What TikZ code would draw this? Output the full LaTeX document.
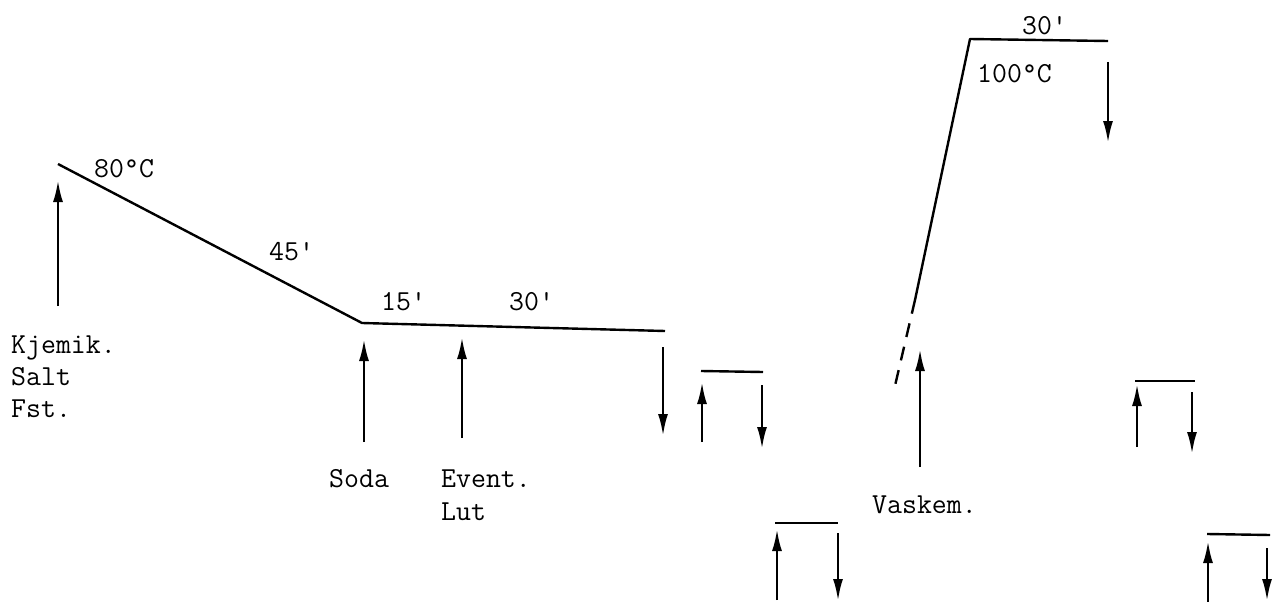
\documentclass[tikz,border=0pt]{standalone}
\usetikzlibrary{arrows.meta}
\begin{document}
\begin{tikzpicture}[x=1pt,y=-1pt,
  curve/.style={line width=2.4pt,line join=round},
  arr/.style={line width=2.6pt,-{Latex[length=22pt,width=10pt]}},
  lbl/.style={anchor=base west,inner sep=0pt,font=\fontsize{29}{33}\selectfont\ttfamily}]
\useasboundingbox (0,0) rectangle (1288,602);
% left curve
\coordinate (a1) at (58,164);
\coordinate (a2) at (362,323);
\coordinate (a3) at (665,331);
\draw[curve] (a1) -- (a2) -- (a3);
% right curve
\coordinate (b0) at (894,390);
\coordinate (b1) at (915,300);
\coordinate (b2) at (970,39);
\coordinate (b3) at (1108,41);
\draw[curve] (b1) -- (b2) -- (b3);
\draw[line width=2.4pt,dash pattern=on 14pt off 10pt] (b1) -- (b0);
% small bars
\coordinate (c1) at (701,371); \coordinate (c2) at (763,372);
\coordinate (d1) at (775,523); \coordinate (d2) at (838,523);
\coordinate (e1) at (1135,381); \coordinate (e2) at (1195,381);
\coordinate (f1) at (1207,534); \coordinate (f2) at (1270,535);
\draw[curve] (c1) -- (c2);
\draw[curve] (d1) -- (d2);
\draw[curve] (e1) -- (e2);
\draw[curve] (f1) -- (f2);
% arrows up
\coordinate (u1s) at (58,306);  \coordinate (u1e) at (58,180);
\coordinate (u2s) at (364,442); \coordinate (u2e) at (364,339);
\coordinate (u3s) at (462,438); \coordinate (u3e) at (462,337);
\coordinate (u4s) at (702,442); \coordinate (u4e) at (702,382);
\coordinate (u5s) at (777,600); \coordinate (u5e) at (777,529);
\coordinate (u6s) at (920,467); \coordinate (u6e) at (920,349);
\coordinate (u7s) at (1137,447); \coordinate (u7e) at (1137,384);
\coordinate (u8s) at (1208,602); \coordinate (u8e) at (1208,541);
\foreach \n in {1,...,8} \draw[arr] (u\n s) -- (u\n e);
% arrows down
\coordinate (w1s) at (663,347);  \coordinate (w1e) at (663,436);
\coordinate (w2s) at (762,385);  \coordinate (w2e) at (762,449);
\coordinate (w3s) at (838,533);  \coordinate (w3e) at (838,601);
\coordinate (w4s) at (1108,62);  \coordinate (w4e) at (1108,143);
\coordinate (w5s) at (1192,392); \coordinate (w5e) at (1192,454);
\coordinate (w6s) at (1267,548); \coordinate (w6e) at (1267,601);
\foreach \n in {1,...,6} \draw[arr] (w\n s) -- (w\n e);
% labels
\node[lbl] (t80) at (94,177) {80°C};
\node[lbl] (t45) at (269,260) {45'};
\node[lbl] (t15) at (381,310) {15'};
\node[lbl] (t30a) at (509,310) {30'};
\node[lbl] (t30b) at (1022,35) {30'};
\node[lbl] (t100) at (977,83) {100°C};
\node[lbl] (k1) at (11,353) {Kjemik.};
\node[lbl] (k2) at (11,385) {Salt};
\node[lbl] (k3) at (11,417) {Fst.};
\node[lbl] (soda) at (329,487) {Soda};
\node[lbl] (ev1) at (441,487) {Event.};
\node[lbl] (ev2) at (441,520) {Lut};
\node[lbl] (vask) at (872,513) {Vaskem.};
\end{tikzpicture}
\end{document}
